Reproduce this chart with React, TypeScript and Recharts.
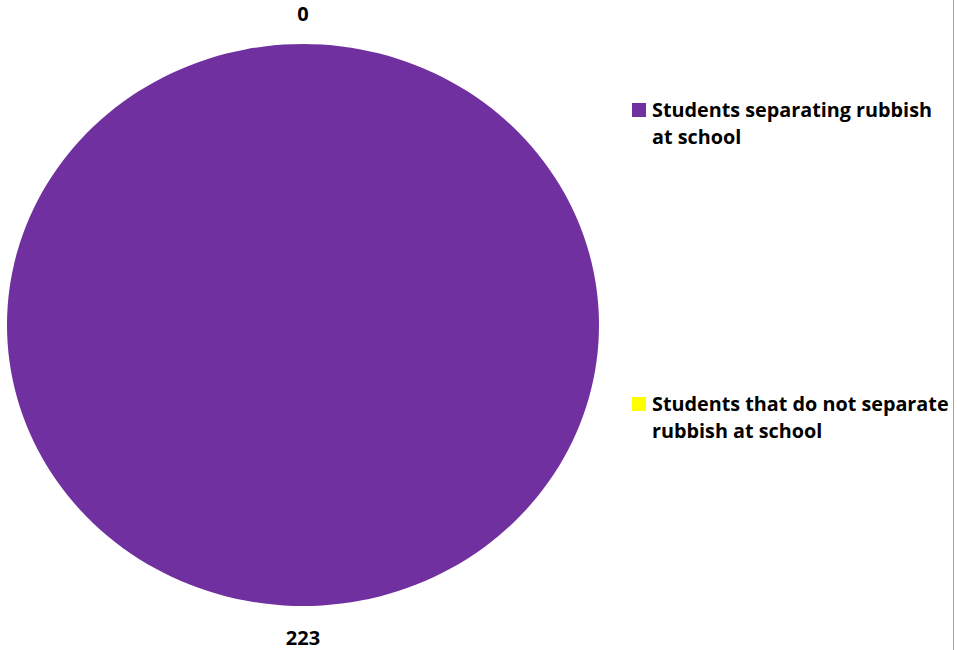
import React from 'react';
import { PieChart, Pie, Cell, Legend, Sector } from 'recharts';

const categories = ['Students separating rubbish at school', 'Students that do not separate rubbish at school'];
const counts = [223, 0];
const colors = ['#7030A0', '#FFFF00'];

const data = categories.map((name, i) => ({ name, value: counts[i] }));

const FONT = '"Open Sans", "Noto Sans", sans-serif';
const RX = 296;
const RY = 281;
const SQUASH = RY / RX;

const EllipseSector = (props: any) => {
  const { cy } = props;
  return (
    <g transform={`translate(0 ${cy}) scale(1 ${SQUASH}) translate(0 ${-cy})`}>
      <Sector {...props} stroke="none" />
    </g>
  );
};

const renderLabel = (props: any) => {
  const { cx, cy, midAngle, value } = props;
  const rad = (-midAngle * Math.PI) / 180;
  const x = cx + (RX + 14) * Math.cos(rad);
  const y = cy + (RY + 31) * Math.sin(rad);
  return (
    <text x={x} y={y} textAnchor="middle" dominantBaseline="central" fill="#000" fontFamily={FONT} fontWeight={700} fontSize={20}>
      {value}
    </text>
  );
};

const LegendContent = (props: any) => {
  const { payload } = props;
  const tops = [96, 390];
  return (
    <div>
      {(payload || []).map((entry: any, i: number) => (
        <div key={entry.value} style={{ position: 'absolute', top: tops[i], left: 0, display: 'flex', alignItems: 'flex-start' }}>
          <span style={{ display: 'inline-block', width: 14, height: 14, background: entry.color, marginTop: 7, marginRight: 6, flexShrink: 0 }} />
          <span style={{ fontFamily: FONT, fontWeight: 700, fontSize: 19.8, lineHeight: '27px', color: '#000', width: 304 }}>{entry.value}</span>
        </div>
      ))}
    </div>
  );
};

export default function App() {
  return (
    <div style={{ position: 'absolute', left: 0, top: 0, width: 957, height: 650, background: '#fff' }}>
      <div style={{ position: 'absolute', left: 953, top: 0, width: 1, height: 650, background: '#a6a6a6' }} />
      <PieChart width={957} height={650} margin={{ top: 0, right: 0, bottom: 0, left: 0 }}>
        <Pie
          data={data}
          dataKey="value"
          nameKey="name"
          cx={303}
          cy={325}
          outerRadius={RX}
          startAngle={90}
          endAngle={-270}
          stroke="none"
          shape={EllipseSector}
          label={renderLabel}
          labelLine={false}
          isAnimationActive={false}
        >
          {data.map((d, i) => (
            <Cell key={d.name} fill={colors[i]} />
          ))}
        </Pie>
        <Legend
          content={LegendContent}
          wrapperStyle={{ position: 'absolute', left: 632, top: 0, width: 320, height: 650 }}
        />
      </PieChart>
    </div>
  );
}
